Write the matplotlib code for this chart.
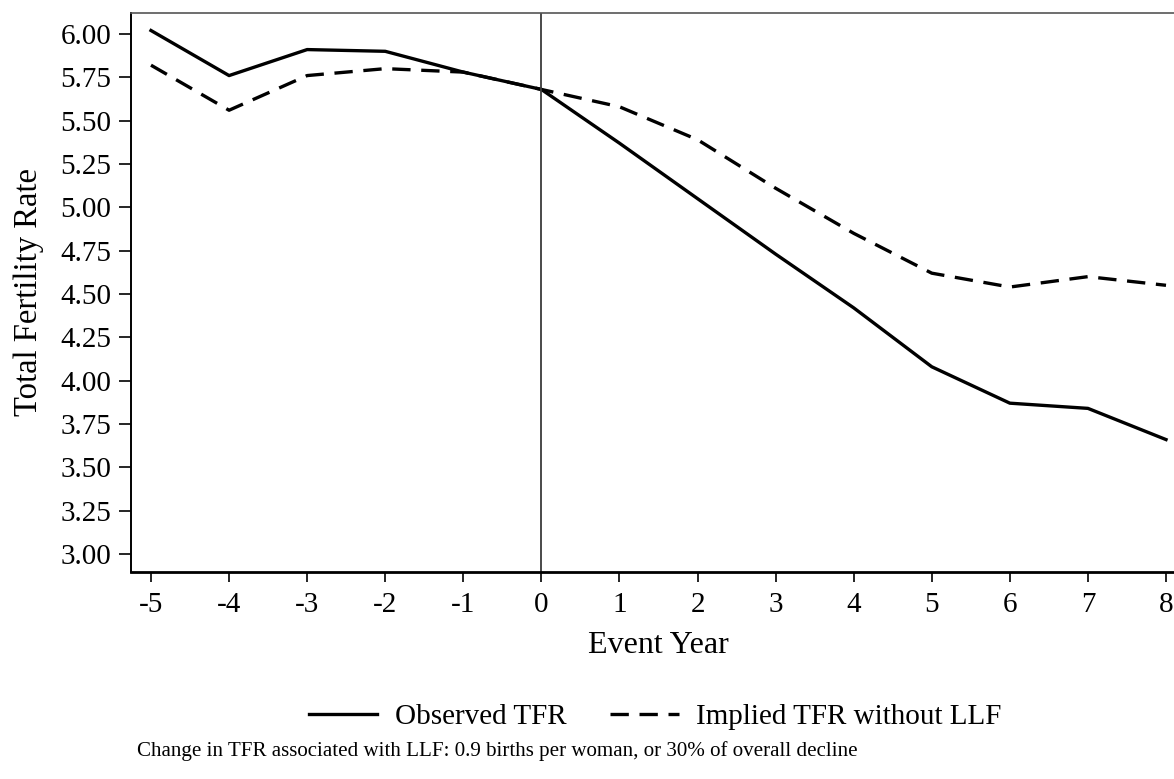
import matplotlib
matplotlib.use("Agg")
import matplotlib.pyplot as plt

event_year = [-5, -4, -3, -2, -1, 0, 1, 2, 3, 4, 5, 6, 7, 8]
observed_tfr = [6.02, 5.76, 5.91, 5.90, 5.78, 5.68, 5.37, 5.05, 4.73, 4.42, 4.08, 3.87, 3.84, 3.66]
implied_tfr = [5.82, 5.56, 5.76, 5.80, 5.78, 5.68, 5.58, 5.39, 5.11, 4.85, 4.62, 4.54, 4.60, 4.55]
y_ticks = [3.00, 3.25, 3.50, 3.75, 4.00, 4.25, 4.50, 4.75, 5.00, 5.25, 5.50, 5.75, 6.00]
footnote = "Change in TFR associated with LLF: 0.9 births per woman, or 30% of overall decline"

plt.rcParams['font.family'] = ['Liberation Serif', 'DejaVu Serif']
plt.rcParams['axes.unicode_minus'] = False
ticksize = 21
labelsize = 23
legendsize = 21

W, H = 1174, 779
fig = plt.figure(figsize=(W / 100, H / 100), dpi=100)
# axes box in pixels: left 131, right past the edge, top 13, bottom 572
ax = fig.add_axes([131 / W, (H - 572) / H, (1185 - 131) / W, (572 - 13) / H])

ax.plot(event_year, observed_tfr, color="black", linewidth=2.4,
        label="Observed TFR")
ax.plot(event_year, implied_tfr, color="black", linewidth=2.4,
        dashes=(5.5, 3.2), label="Implied TFR without LLF")
ax.axvline(0, color="#3a3a3a", linewidth=1.3)

ax.set_xlim(-5.256, 8 + (1185 - 1166) / 78.1)
ax.set_ylim(2.896, 6.121)
ax.set_xticks(event_year)
ax.set_xticklabels([str(v) for v in event_year])
ax.set_yticks(y_ticks)
ax.set_yticklabels([f"{v:.2f}" for v in y_ticks])
ax.tick_params(axis="both", labelsize=ticksize, width=1.2, color="black")
ax.tick_params(axis="x", length=7.5, pad=7)
ax.tick_params(axis="y", length=9, pad=5)

ax.spines["top"].set_color("#555555")
ax.spines["top"].set_linewidth(1.2)
ax.spines["left"].set_linewidth(1.4)
ax.spines["bottom"].set_linewidth(2.0)
ax.spines["right"].set_visible(False)

ax.set_xlabel("Event Year", fontsize=labelsize, labelpad=9)
ax.set_ylabel("Total Fertility Rate", fontsize=23.5, labelpad=12)

fig.legend(loc="center", bbox_to_anchor=(655 / W, 1 - 717 / H), ncol=2,
           frameon=False, fontsize=legendsize, handlelength=2.35,
           handletextpad=0.6, columnspacing=1.5)

fig.text(137 / W, 1 - 751 / H, footnote, fontsize=15.1, va="center", ha="left")

fig.savefig("out.png", dpi=100)
